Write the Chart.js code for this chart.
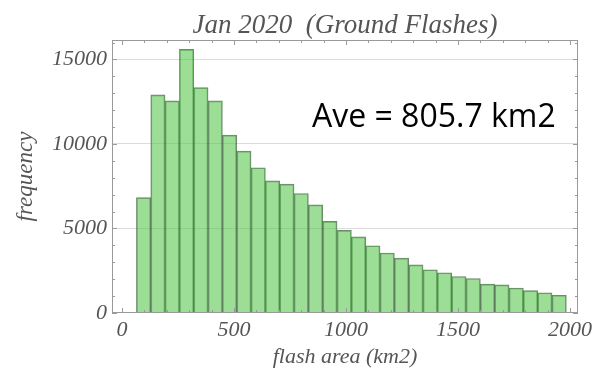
<!DOCTYPE html>
<html>
<head>
<meta charset="utf-8">
<script src="https://cdn.jsdelivr.net/npm/chart.js@4"></script>
<style>
  html, body { margin: 0; padding: 0; background: #fff; }
  #wrap { width: 593px; height: 371px; }
</style>
</head>
<body>
<div id="wrap"><canvas id="hist"></canvas></div>
<script>
// bin left edges (km2), bins are 64 km2 wide
const binStart = [64, 128, 192, 256, 320, 384, 448, 512, 576, 640,
                  704, 768, 832, 896, 960, 1024, 1088, 1152, 1216, 1280,
                  1344, 1408, 1472, 1536, 1600, 1664, 1728, 1792, 1856, 1920];
const binWidth = 64;
// counts per bin
const counts = [6830, 12900, 12550, 15600, 13330, 12550, 10520, 9580, 8590, 7820,
                7620, 7070, 6400, 5420, 4890, 4500, 3980, 3550, 3250, 2850,
                2560, 2380, 2160, 2040, 1710, 1660, 1480, 1320, 1200, 1050];
const xTicks = [0, 500, 1000, 1500, 2000];
const yTicks = [0, 5000, 10000, 15000];
const aveText = 'Ave = 805.7 km2';

const serif = 'Liberation Serif';
const grey = '#555';

// frame around the plot + small inward tick marks like Mathematica
const framePlugin = {
  id: 'frame',
  afterDatasetsDraw(chart) {
    const { ctx, chartArea: a, scales: { x, y } } = chart;
    ctx.save();
    ctx.strokeStyle = '#9a9a9a';
    ctx.lineWidth = 1;
    ctx.strokeRect(Math.round(a.left) + 0.5, Math.round(a.top) + 0.5,
                   Math.round(a.width) - 1, Math.round(a.height) - 1);
    ctx.beginPath();
    for (let v = 0; v <= 2000; v += 100) {
      const px = Math.round(x.getPixelForValue(v)) + 0.5;
      const len = v % 500 === 0 ? 5 : 3;
      ctx.moveTo(px, a.bottom); ctx.lineTo(px, a.bottom - len);
      ctx.moveTo(px, a.top); ctx.lineTo(px, a.top + len);
    }
    for (let v = 0; v <= 16000; v += 1000) {
      const py = Math.round(y.getPixelForValue(v)) + 0.5;
      const len = v % 5000 === 0 ? 5 : 3;
      ctx.moveTo(a.left, py); ctx.lineTo(a.left + len, py);
      ctx.moveTo(a.right, py); ctx.lineTo(a.right - len, py);
    }
    ctx.stroke();
    ctx.restore();
  }
};

const avePlugin = {
  id: 'ave',
  afterDraw(chart) {
    const { ctx, chartArea: a } = chart;
    ctx.save();
    ctx.font = '32px "Open Sans"';
    ctx.fillStyle = '#000';
    ctx.textAlign = 'left';
    ctx.textBaseline = 'alphabetic';
    ctx.fillText(aveText, a.right - 266, a.top + 87);
    ctx.restore();
  }
};

new Chart(document.getElementById('hist'), {
  type: 'bar',
  data: {
    datasets: [{
      data: binStart.map((s, i) => ({ x: s + binWidth / 2, y: counts[i] })),
      backgroundColor: 'rgba(90, 200, 80, 0.6)',
      borderColor: 'rgba(50, 90, 50, 0.7)',
      borderWidth: 1,
      barPercentage: 1,
      categoryPercentage: 1,
    }]
  },
  options: {
    responsive: true,
    maintainAspectRatio: false,
    animation: false,
    layout: { padding: { left: 0, right: 15, top: 0, bottom: 0 } },
    plugins: {
      legend: { display: false },
      tooltip: { enabled: false },
      title: {
        display: true,
        fullSize: false,
        text: 'Jan 2020  (Ground Flashes)',
        color: grey,
        font: { family: serif, size: 27, style: 'italic', weight: 'normal', lineHeight: 1 },
        padding: { top: 12, bottom: 1 },
      },
    },
    scales: {
      x: {
        type: 'linear',
        min: -45,
        max: 2036,
        offset: false,
        afterFit: s => { s.height = 58; s.paddingLeft = 0; s.paddingRight = 0; },
        afterBuildTicks: s => { s.ticks = xTicks.map(v => ({ value: v })); },
        grid: { display: false, drawTicks: false },
        border: { display: false },
        ticks: {
          autoSkip: false,
          maxRotation: 0,
          padding: 4,
          color: grey,
          font: { family: serif, size: 22, style: 'italic' },
          callback: v => String(v),
        },
        title: {
          display: true,
          text: 'flash area (km2)',
          color: grey,
          font: { family: serif, size: 22, style: 'italic', lineHeight: 1 },
          padding: { top: 3, bottom: 3 },
        },
      },
      y: {
        min: 0,
        max: 16150,
        afterFit: s => { s.width = 112; s.paddingTop = 0; s.paddingBottom = 0; },
        afterBuildTicks: s => { s.ticks = yTicks.map(v => ({ value: v })); },
        grid: {
          drawTicks: false,
          color: c => (c.tick && c.tick.value > 0 ? '#dcdcdc' : 'rgba(0,0,0,0)'),
        },
        border: { display: false },
        ticks: {
          padding: 5,
          color: grey,
          font: { family: serif, size: 22, style: 'italic' },
          callback: v => String(v),
        },
        title: {
          display: true,
          text: 'frequency',
          color: grey,
          font: { family: serif, size: 23, style: 'italic', lineHeight: 1 },
          padding: { top: 14, bottom: 0 },
        },
      },
    },
  },
  plugins: [framePlugin, avePlugin],
});
</script>
</body>
</html>
